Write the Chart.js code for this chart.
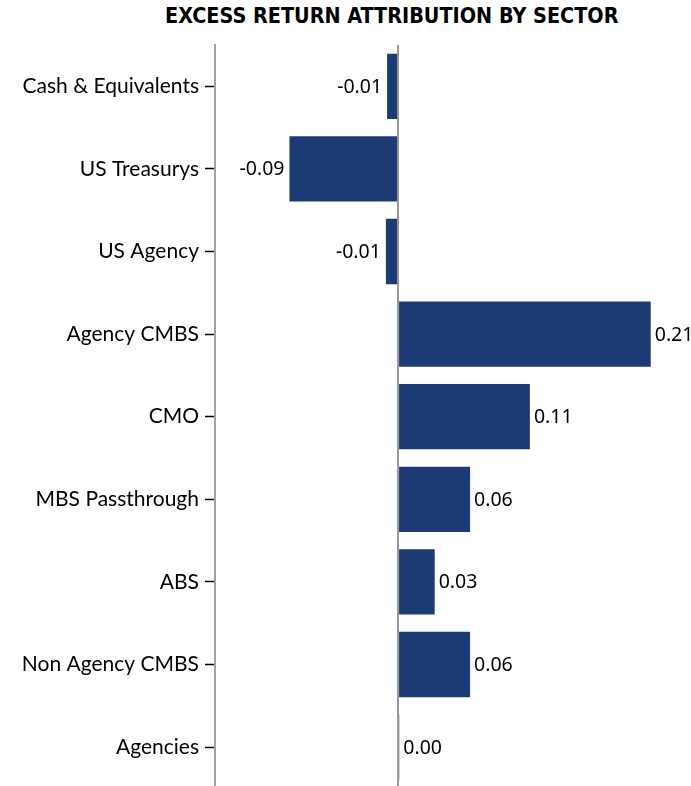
<!DOCTYPE html>
<html lang="en">
<head>
    <meta charset="UTF-8">
    <title>Excess Return Attribution by Sector</title>
    <script src="https://cdn.jsdelivr.net/npm/chart.js"></script>
    <style>
        html, body {
            margin: 0;
            padding: 0;
            overflow: hidden;
            background: #fff;
        }
        .title {
            position: absolute;
            top: 3px;
            left: 165px;
            font-family: "DejaVu Sans Condensed", "DejaVu Sans", sans-serif;
            font-weight: bold;
            font-size: 22px;
            color: #000;
            white-space: nowrap;
            transform-origin: left top;
        }
        .chart-container {
            position: absolute;
            top: 0;
            left: 0;
            width: 691px;
            height: 807px;
        }
    </style>
</head>
<body>
    <div class="title" id="title">EXCESS RETURN ATTRIBUTION BY SECTOR</div>
    <div class="chart-container">
        <canvas id="myChart"></canvas>
    </div>

    <script>
        const sectors = ['Cash & Equivalents', 'US Treasurys', 'US Agency', 'Agency CMBS', 'CMO',
                         'MBS Passthrough', 'ABS', 'Non Agency CMBS', 'Agencies'];
        const excessReturn = [-0.009, -0.089, -0.01, 0.207, 0.108, 0.059, 0.03, 0.059, 0.001];

        // squeeze the title so it spans the same width as the original
        const t = document.getElementById('title');
        t.style.transform = 'scaleX(' + (453 / t.offsetWidth) + ')';

        // value labels beside each bar
        const valueLabels = {
            id: 'valueLabels',
            afterDatasetsDraw(chart) {
                const ctx = chart.ctx;
                const meta = chart.getDatasetMeta(0);
                ctx.save();
                ctx.font = '19.5px "Noto Sans", sans-serif';
                ctx.fillStyle = '#000';
                ctx.textBaseline = 'middle';
                meta.data.forEach((bar, i) => {
                    const v = excessReturn[i];
                    const txt = v.toFixed(2);
                    if (v < 0) {
                        ctx.textAlign = 'right';
                        ctx.fillText(txt, bar.x - 5, bar.y + 1);
                    } else {
                        ctx.textAlign = 'left';
                        ctx.fillText(txt, bar.x + 4, bar.y + 1);
                    }
                });
                ctx.restore();
            }
        };

        new Chart(document.getElementById('myChart'), {
            type: 'bar',
            data: {
                labels: sectors,
                datasets: [{
                    data: excessReturn,
                    backgroundColor: '#1c3a73',
                    barPercentage: 0.79,
                    categoryPercentage: 1
                }]
            },
            options: {
                indexAxis: 'y',
                responsive: true,
                maintainAspectRatio: false,
                animation: false,
                layout: { padding: { top: 45, right: 0, bottom: 0, left: 0 } },
                plugins: {
                    legend: { display: false },
                    tooltip: { enabled: false }
                },
                scales: {
                    x: {
                        min: -0.15,
                        max: 0.24,
                        afterFit(scale) { scale.height = 0; },
                        ticks: { display: false, stepSize: 0.05 },
                        grid: {
                            drawTicks: false,
                            color: c => c.tick && c.tick.value === 0 ? '#999' : 'rgba(0,0,0,0)',
                            lineWidth: 2
                        },
                        border: { display: false }
                    },
                    y: {
                        afterFit(scale) { scale.width = 215; },
                        ticks: {
                            color: '#000',
                            font: { family: 'Lato', size: 21 },
                            padding: 6
                        },
                        grid: {
                            offset: false,
                            drawOnChartArea: false,
                            drawTicks: true,
                            tickLength: 10,
                            tickColor: '#000',
                            tickWidth: 1.5
                        },
                        border: { color: '#a0a0a0', width: 2 }
                    }
                }
            },
            plugins: [valueLabels]
        });
    </script>
</body>
</html>
